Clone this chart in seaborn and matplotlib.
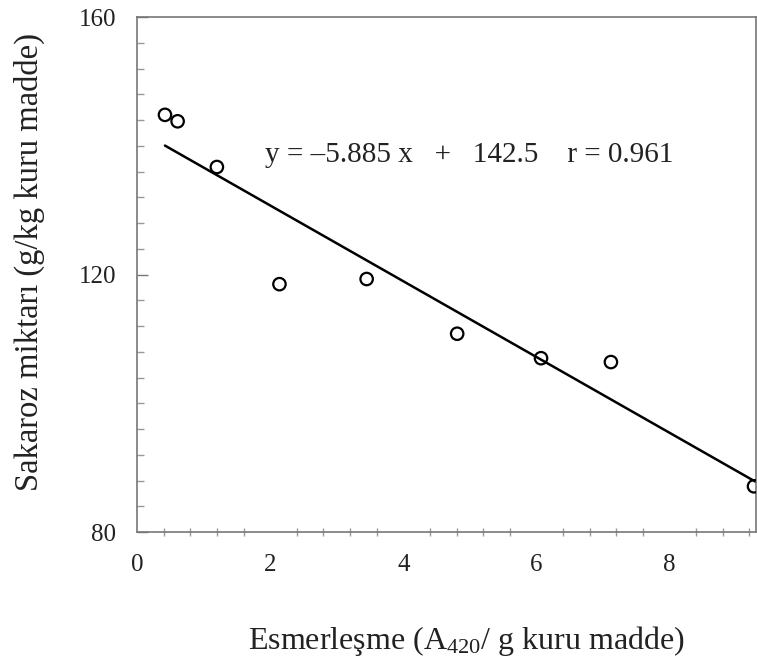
import matplotlib
matplotlib.use("Agg")
import matplotlib.pyplot as plt
from matplotlib.ticker import MultipleLocator
import numpy as np
import pandas as pd
import seaborn as sns

# Browning index vs. sucrose content
esmerlesme = [0.42, 0.61, 1.20, 2.14, 3.45, 4.81, 6.07, 7.12, 9.27]
sakaroz = [144.8, 143.8, 136.7, 118.5, 119.3, 110.8, 107.0, 106.4, 87.1]

# Fitted regression
slope = -5.885
intercept = 142.5
r_value = 0.961

x_ticks = [0, 2, 4, 6, 8]
y_ticks = [80, 120, 160]

sns.set_theme(style="white")
plt.rcParams["font.family"] = ["Liberation Serif", "DejaVu Serif"]
plt.rcParams["mathtext.fontset"] = "custom"
plt.rcParams["mathtext.rm"] = "Liberation Serif"
plt.rcParams["mathtext.it"] = "Liberation Serif:italic"

fig = plt.figure(figsize=(7.57, 6.59), dpi=100)
ax = fig.add_axes([0.181, 0.1927, 0.8177, 0.7815])

df = pd.DataFrame({"x": esmerlesme, "y": sakaroz})
sns.scatterplot(data=df, x="x", y="y", ax=ax, marker="o", s=80,
                facecolor="none", edgecolor="black", linewidth=1.6,
                zorder=3)

x_fit = np.array([min(esmerlesme), 9.3])
fit = pd.DataFrame({"x": x_fit, "y": slope * x_fit + intercept})
sns.lineplot(data=fit, x="x", y="y", ax=ax, color="black", linewidth=1.8,
             zorder=2)

ax.text(1.92, 138.6,
        "y = \u2013%.3f x   +   %.1f    r = %.3f" % (-slope, intercept, r_value),
        fontsize=21, color="#222222", va="center", ha="left")

ax.set_xlim(0, 9.3)
ax.set_ylim(80, 160)
ax.set_xticks(x_ticks)
ax.set_yticks(y_ticks)
ax.xaxis.set_minor_locator(MultipleLocator(0.4))
ax.yaxis.set_minor_locator(MultipleLocator(4))

ax.tick_params(axis="x", which="major", direction="inout", length=10,
               width=1, color="#777777", labelsize=18, pad=11,
               labelcolor="#222222")
ax.tick_params(axis="x", which="minor", direction="inout", length=6,
               width=1, color="#999999", bottom=True)
ax.tick_params(axis="y", which="major", direction="in", length=8,
               width=1, color="#777777", labelsize=18, pad=15,
               labelcolor="#222222", left=True)
ax.tick_params(axis="y", which="minor", direction="in", length=5,
               width=1, color="#999999", left=True)

for side, spine in ax.spines.items():
    spine.set_visible(True)
    spine.set_color("#777777")
    spine.set_linewidth(1.2)

ax.set_xlabel("Esmerleşme (A$_{420}$/ g kuru madde)", fontsize=23,
              color="#222222")
ax.xaxis.set_label_coords(0.532, -0.178, transform=ax.transAxes)
ax.set_ylabel("Sakaroz miktarı (g/kg kuru madde)", fontsize=23.5,
              color="#222222")
ax.yaxis.set_label_coords(-0.149, 0.524, transform=ax.transAxes)

fig.savefig("out.png", dpi=100)
